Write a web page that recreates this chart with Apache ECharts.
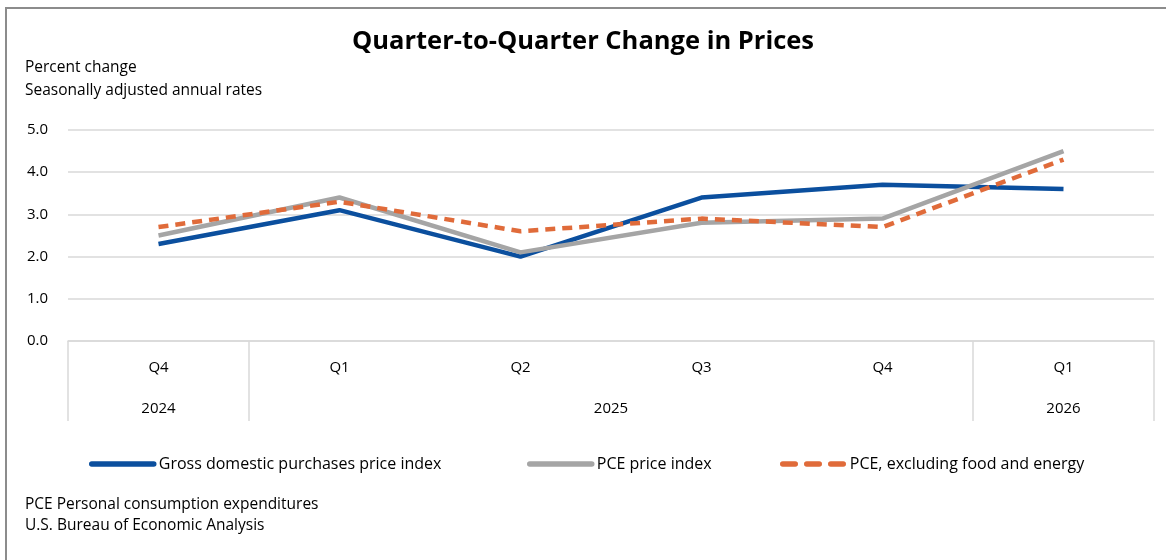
<!DOCTYPE html>
<html>
<head>
<meta charset="utf-8">
<title>Quarter-to-Quarter Change in Prices</title>
<script src="https://cdn.jsdelivr.net/npm/echarts@6/dist/echarts.min.js"></script>
<style>
  html, body { margin: 0; padding: 0; background: #fff; }
  #chart { width: 1166px; height: 560px; }
</style>
</head>
<body>
<div id="chart"></div>
<script>
// quarters on the axis, years underneath
var quarters = ['Q4', 'Q1', 'Q2', 'Q3', 'Q4', 'Q1'];
var years = ['2024', '2025', '2026'];
var yearCenters = [0.5, 3, 5.5];
var yearDividers = [0, 1, 5, 6];

var seriesNames = ['Gross domestic purchases price index', 'PCE price index', 'PCE, excluding food and energy'];
var grossDomestic = [2.3, 3.1, 2.0, 3.4, 3.7, 3.6];
var pce = [2.5, 3.4, 2.1, 2.8, 2.9, 4.5];
var pceCore = [2.7, 3.3, 2.6, 2.9, 2.7, 4.3];

var yTicks = ['0.0', '1.0', '2.0', '3.0', '4.0', '5.0'];

var FONT = "'Open Sans', 'Noto Sans', sans-serif";
var chart = echarts.init(document.getElementById('chart'));

function lineSeries(name, data, color, dashed) {
    return {
        name: name,
        type: 'line',
        data: data,
        symbol: 'none',
        lineStyle: {
            color: color,
            width: 4.5,
            type: dashed ? [10, 7] : 'solid',
            cap: 'butt'
        },
        itemStyle: { color: color },
        emphasis: { disabled: true }
    };
}

// one legend per item so each can sit where the reference puts it
function legendAt(name, left, dashed) {
    return {
        left: left,
        top: 451,
        itemWidth: 62,
        itemHeight: 20,
        itemGap: 0,
        selectedMode: false,
        itemStyle: { opacity: 0 },
        lineStyle: { width: 5.5, type: dashed ? [12.5, 11.5] : 'solid', cap: 'round' },
        textStyle: { fontSize: 16, color: '#000', fontFamily: FONT },
        data: [name]
    };
}

function note(text, top) {
    return {
        type: 'text', left: 25, top: top,
        style: { text: text, fontSize: 15.5, fill: '#000', fontFamily: FONT }
    };
}

var option = {
    animation: false,
    textStyle: { fontFamily: FONT },
    title: {
        text: 'Quarter-to-Quarter Change in Prices',
        left: 'center',
        top: 24,
        textStyle: { fontSize: 25.5, fontWeight: 'bold', color: '#000', fontFamily: FONT }
    },
    graphic: [
        {
            type: 'polyline',
            shape: { points: [[6, 570], [6, 8], [1170, 8]] },
            style: { stroke: '#8c8c8c', lineWidth: 2, fill: null }
        },
        note('Percent change', 60),
        note('Seasonally adjusted annual rates', 83),
        note('PCE Personal consumption expenditures', 497),
        note('U.S. Bureau of Economic Analysis', 518)
    ],
    legend: [
        legendAt(seriesNames[0], 84, false),
        legendAt(seriesNames[1], 522, false),
        legendAt(seriesNames[2], 775, true)
    ],
    grid: {
        left: 68,
        right: 12,
        top: 130,
        height: 211,
        containLabel: false
    },
    xAxis: [
        {
            type: 'category',
            data: quarters,
            boundaryGap: true,
            axisLine: { show: true, lineStyle: { color: '#d9d9d9', width: 1.5 } },
            axisTick: { show: false },
            axisLabel: { margin: 19, fontSize: 15, color: '#000', fontFamily: FONT }
        },
        {
            type: 'value',
            min: 0,
            max: 6,
            position: 'bottom',
            splitLine: { show: false },
            axisLine: { show: false },
            axisTick: {
                show: true,
                customValues: yearDividers,
                length: 80,
                inside: false,
                lineStyle: { color: '#d9d9d9', width: 1.5 }
            },
            axisLabel: {
                customValues: yearCenters,
                margin: 60,
                fontSize: 15,
                color: '#000',
                fontFamily: FONT,
                formatter: function (v) {
                    var i = yearCenters.indexOf(v);
                    return i >= 0 ? years[i] : '';
                }
            }
        }
    ],
    yAxis: {
        type: 'value',
        min: 0,
        max: 5,
        interval: 1,
        axisLine: { show: false },
        axisTick: { show: false },
        splitLine: { lineStyle: { color: '#d9d9d9', width: 1.5 } },
        axisLabel: {
            margin: 20,
            fontSize: 15,
            color: '#000',
            fontFamily: FONT,
            formatter: function (v) { return yTicks[Math.round(v)]; }
        }
    },
    series: [
        lineSeries(seriesNames[0], grossDomestic, '#0b4f9e', false),
        lineSeries(seriesNames[1], pce, '#a5a5a5', false),
        lineSeries(seriesNames[2], pceCore, '#e06b3a', true)
    ]
};

chart.setOption(option);
</script>
</body>
</html>
